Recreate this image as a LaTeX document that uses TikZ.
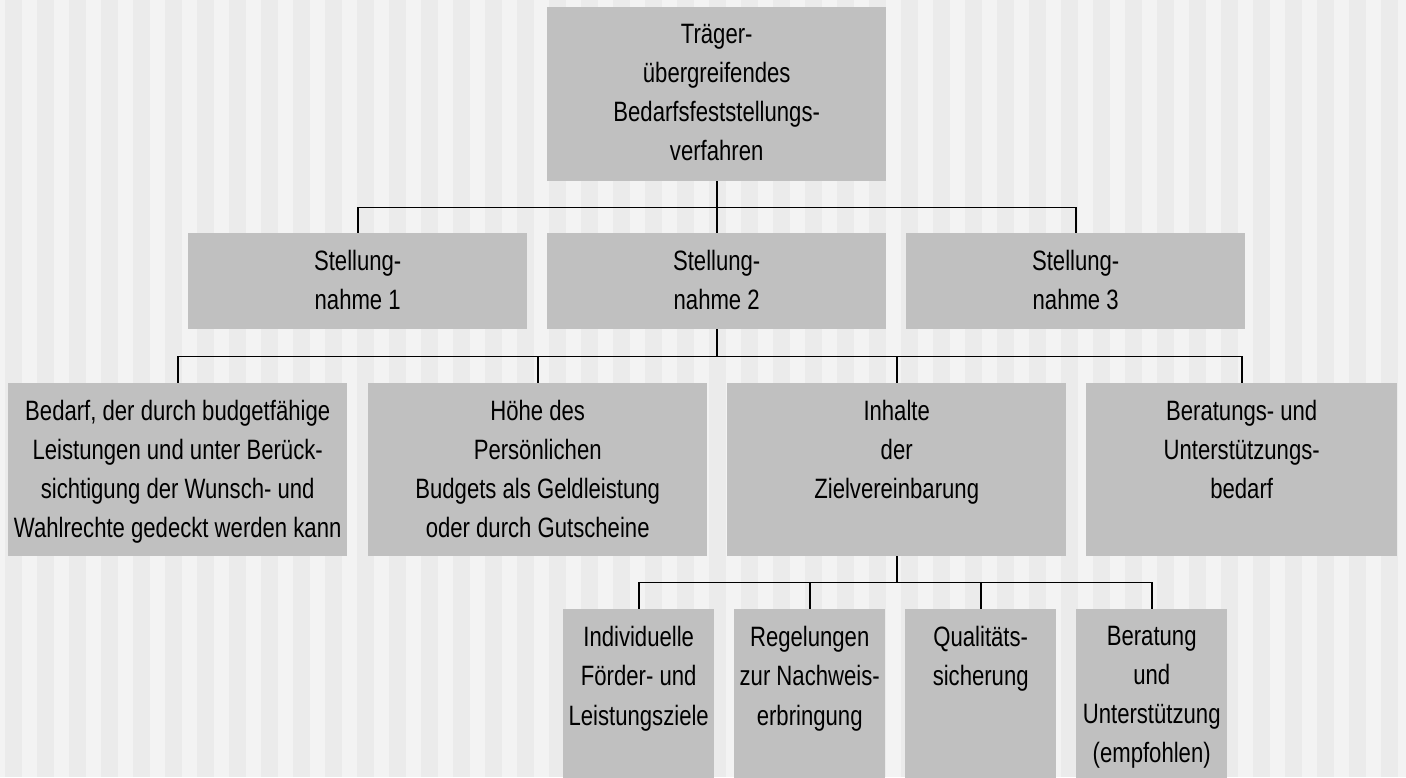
\documentclass[tikz,border=0pt]{standalone}
\usepackage{fontspec}
\setmainfont{Liberation Sans}[FakeStretch=0.79]
\definecolor{stripelight}{RGB}{243,243,243}
\definecolor{stripedark}{RGB}{235,235,235}
\definecolor{boxgray}{RGB}{192,192,192}
\def\gap{26}

\begin{document}
\begin{tikzpicture}[x=1pt,y=-1pt,
	kasten/.style 2 args={fill=boxgray,anchor=north west,inner sep=0pt,
		minimum width=#1,minimum height=#2},
	txt/.style={anchor=north,inner sep=0pt,align=center,yshift=-17.5pt,
		font=\fontsize{28}{39}\selectfont},
	link/.style={line width=1.8pt}]
\clip (0,0) rectangle (1406,777);
\fill[stripelight] (0,0) rectangle (1406,777);
\foreach \k in {0,...,43}
	\fill[stripedark] ({5+32*\k},0) rectangle ({22+32*\k},777);

\node[kasten={339pt}{174pt},label={[txt]90:{Träger-\\übergreifendes\\Bedarfsfeststellungs-\\verfahren}}] (top) at (547,7) {};

\node[kasten={339pt}{96pt},label={[txt]90:{Stellung-\\nahme 1}}] (s1) at (188,233) {};
\node[kasten={339pt}{96pt},label={[txt]90:{Stellung-\\nahme 2}}] (s2) at (547,233) {};
\node[kasten={339pt}{96pt},label={[txt]90:{Stellung-\\nahme 3}}] (s3) at (906,233) {};

\node[kasten={339pt}{173pt},label={[txt]90:{Bedarf, der durch budgetfähige\\Leistungen und unter Berück-\\sichtigung der Wunsch- und\\Wahlrechte gedeckt werden kann}}] (ra) at (8,383) {};
\node[kasten={339pt}{173pt},label={[txt]90:{Höhe des\\Persönlichen\\Budgets als Geldleistung\\oder durch Gutscheine}}] (rb) at (368,383) {};
\node[kasten={339pt}{173pt},label={[txt]90:{Inhalte\\der\\Zielvereinbarung}}] (rc) at (727,383) {};
\node[kasten={311pt}{173pt},label={[txt]90:{Beratungs- und\\Unterstützungs-\\bedarf}}] (rd) at (1086,383) {};

\node[kasten={151pt}{180pt},label={[txt]90:{Individuelle\\Förder- und\\Leistungsziele}}] (za) at (563,609) {};
\node[kasten={151pt}{180pt},label={[txt]90:{Regelungen\\zur Nachweis-\\erbringung}}] (zb) at (734,609) {};
\node[kasten={151pt}{180pt},label={[txt]90:{Qualitäts-\\sicherung}}] (zc) at (905,609) {};
\node[kasten={151pt}{180pt},label={[txt]90:{Beratung\\und\\Unterstützung\\(empfohlen)}}] (zd) at (1076,609) {};

\foreach \k in {s1,s2,s3}
	\draw[link] (top.south) -- ++(0,\gap) -| (\k.north);
\foreach \k in {ra,rb,rc,rd}
	\draw[link] (s2.south) -- ++(0,27) -| (\k.north);
\foreach \k in {za,zb,zc,zd}
	\draw[link] (rc.south) -- ++(0,\gap) -| (\k.north);
\end{tikzpicture}
\end{document}
